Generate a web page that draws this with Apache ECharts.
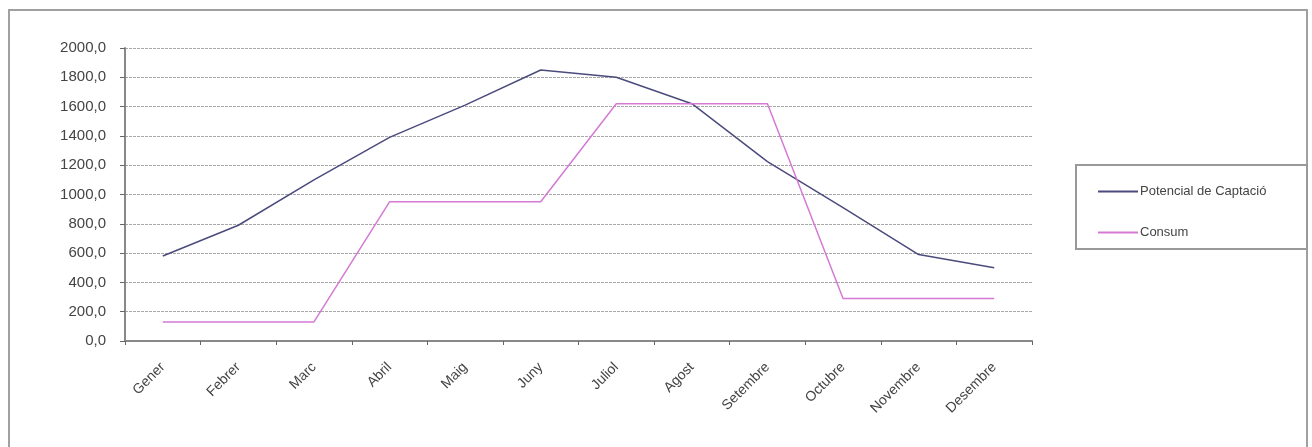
<!DOCTYPE html>
<html>
<head>
<meta charset="utf-8">
<script src="https://cdn.jsdelivr.net/npm/echarts@6/dist/echarts.min.js"></script>
<style>
  html, body { margin: 0; padding: 0; background: #fff; }
  #frame { position: absolute; left: 8px; top: 9px; width: 1296px; height: 460px;
           border: 2px solid #a0a0a0; border-bottom: none; }
  #chart { position: absolute; left: 0; top: 0; width: 1312px; height: 447px; }
</style>
</head>
<body>
<div id="frame"></div>
<div id="chart"></div>
<script>
var months = ['Gener', 'Febrer', 'Marc', 'Abril', 'Maig', 'Juny', 'Juliol', 'Agost', 'Setembre', 'Octubre', 'Novembre', 'Desembre'];
var potencial = [580, 790, 1100, 1390, 1610, 1850, 1800, 1620, 1225, 910, 590, 500];
var consum = [130, 130, 130, 950, 950, 950, 1620, 1620, 1620, 290, 290, 290];
var seriesNames = ['Potencial de Captació', 'Consum'];

var myChart = echarts.init(document.getElementById('chart'));

var option = {
  animation: false,
  textStyle: { fontFamily: 'Liberation Sans, Arial, sans-serif' },
  grid: { left: 125, right: 280, top: 48, bottom: 106 },
  graphic: [
    {
      type: 'rect',
      shape: { x: 1076, y: 165, width: 231, height: 84 },
      style: { fill: '#fff', stroke: '#999', lineWidth: 2 },
      z: 0
    }
  ],
  legend: {
    data: seriesNames,
    orient: 'vertical',
    left: 1093,
    top: 180,
    itemGap: 28,
    itemWidth: 40,
    itemHeight: 2,
    icon: 'rect',
    textStyle: { fontSize: 13, color: '#444', padding: [0, 0, 0, -3] },
    z: 5
  },
  xAxis: {
    type: 'category',
    data: months,
    boundaryGap: true,
    axisLine: { lineStyle: { color: '#888', width: 2 } },
    axisTick: { show: true, length: 4, lineStyle: { color: '#666' } },
    axisLabel: { rotate: 45, fontSize: 14, color: '#444', margin: 24, interval: 0 },
    splitLine: { show: false }
  },
  yAxis: {
    type: 'value',
    min: 0,
    max: 2000,
    interval: 200,
    axisLine: { show: true, lineStyle: { color: '#888', width: 2 } },
    axisTick: { show: true, length: 5, lineStyle: { color: '#666' } },
    axisLabel: {
      fontSize: 15, color: '#444', margin: 19,
      formatter: function (v) { return v.toFixed(1).replace('.', ','); }
    },
    splitLine: { show: true, lineStyle: { color: '#a8a8a8', type: [3, 1], width: 1 } }
  },
  series: [
    {
      name: seriesNames[0],
      type: 'line',
      data: potencial,
      showSymbol: false,
      symbol: 'none',
      itemStyle: { color: '#4b4b7d' },
      lineStyle: { color: '#4b4b7d', width: 1.5 }
    },
    {
      name: seriesNames[1],
      type: 'line',
      data: consum,
      showSymbol: false,
      symbol: 'none',
      itemStyle: { color: '#d47ad4' },
      lineStyle: { color: '#d47ad4', width: 1.5 }
    }
  ]
};

myChart.setOption(option);
</script>
</body>
</html>
